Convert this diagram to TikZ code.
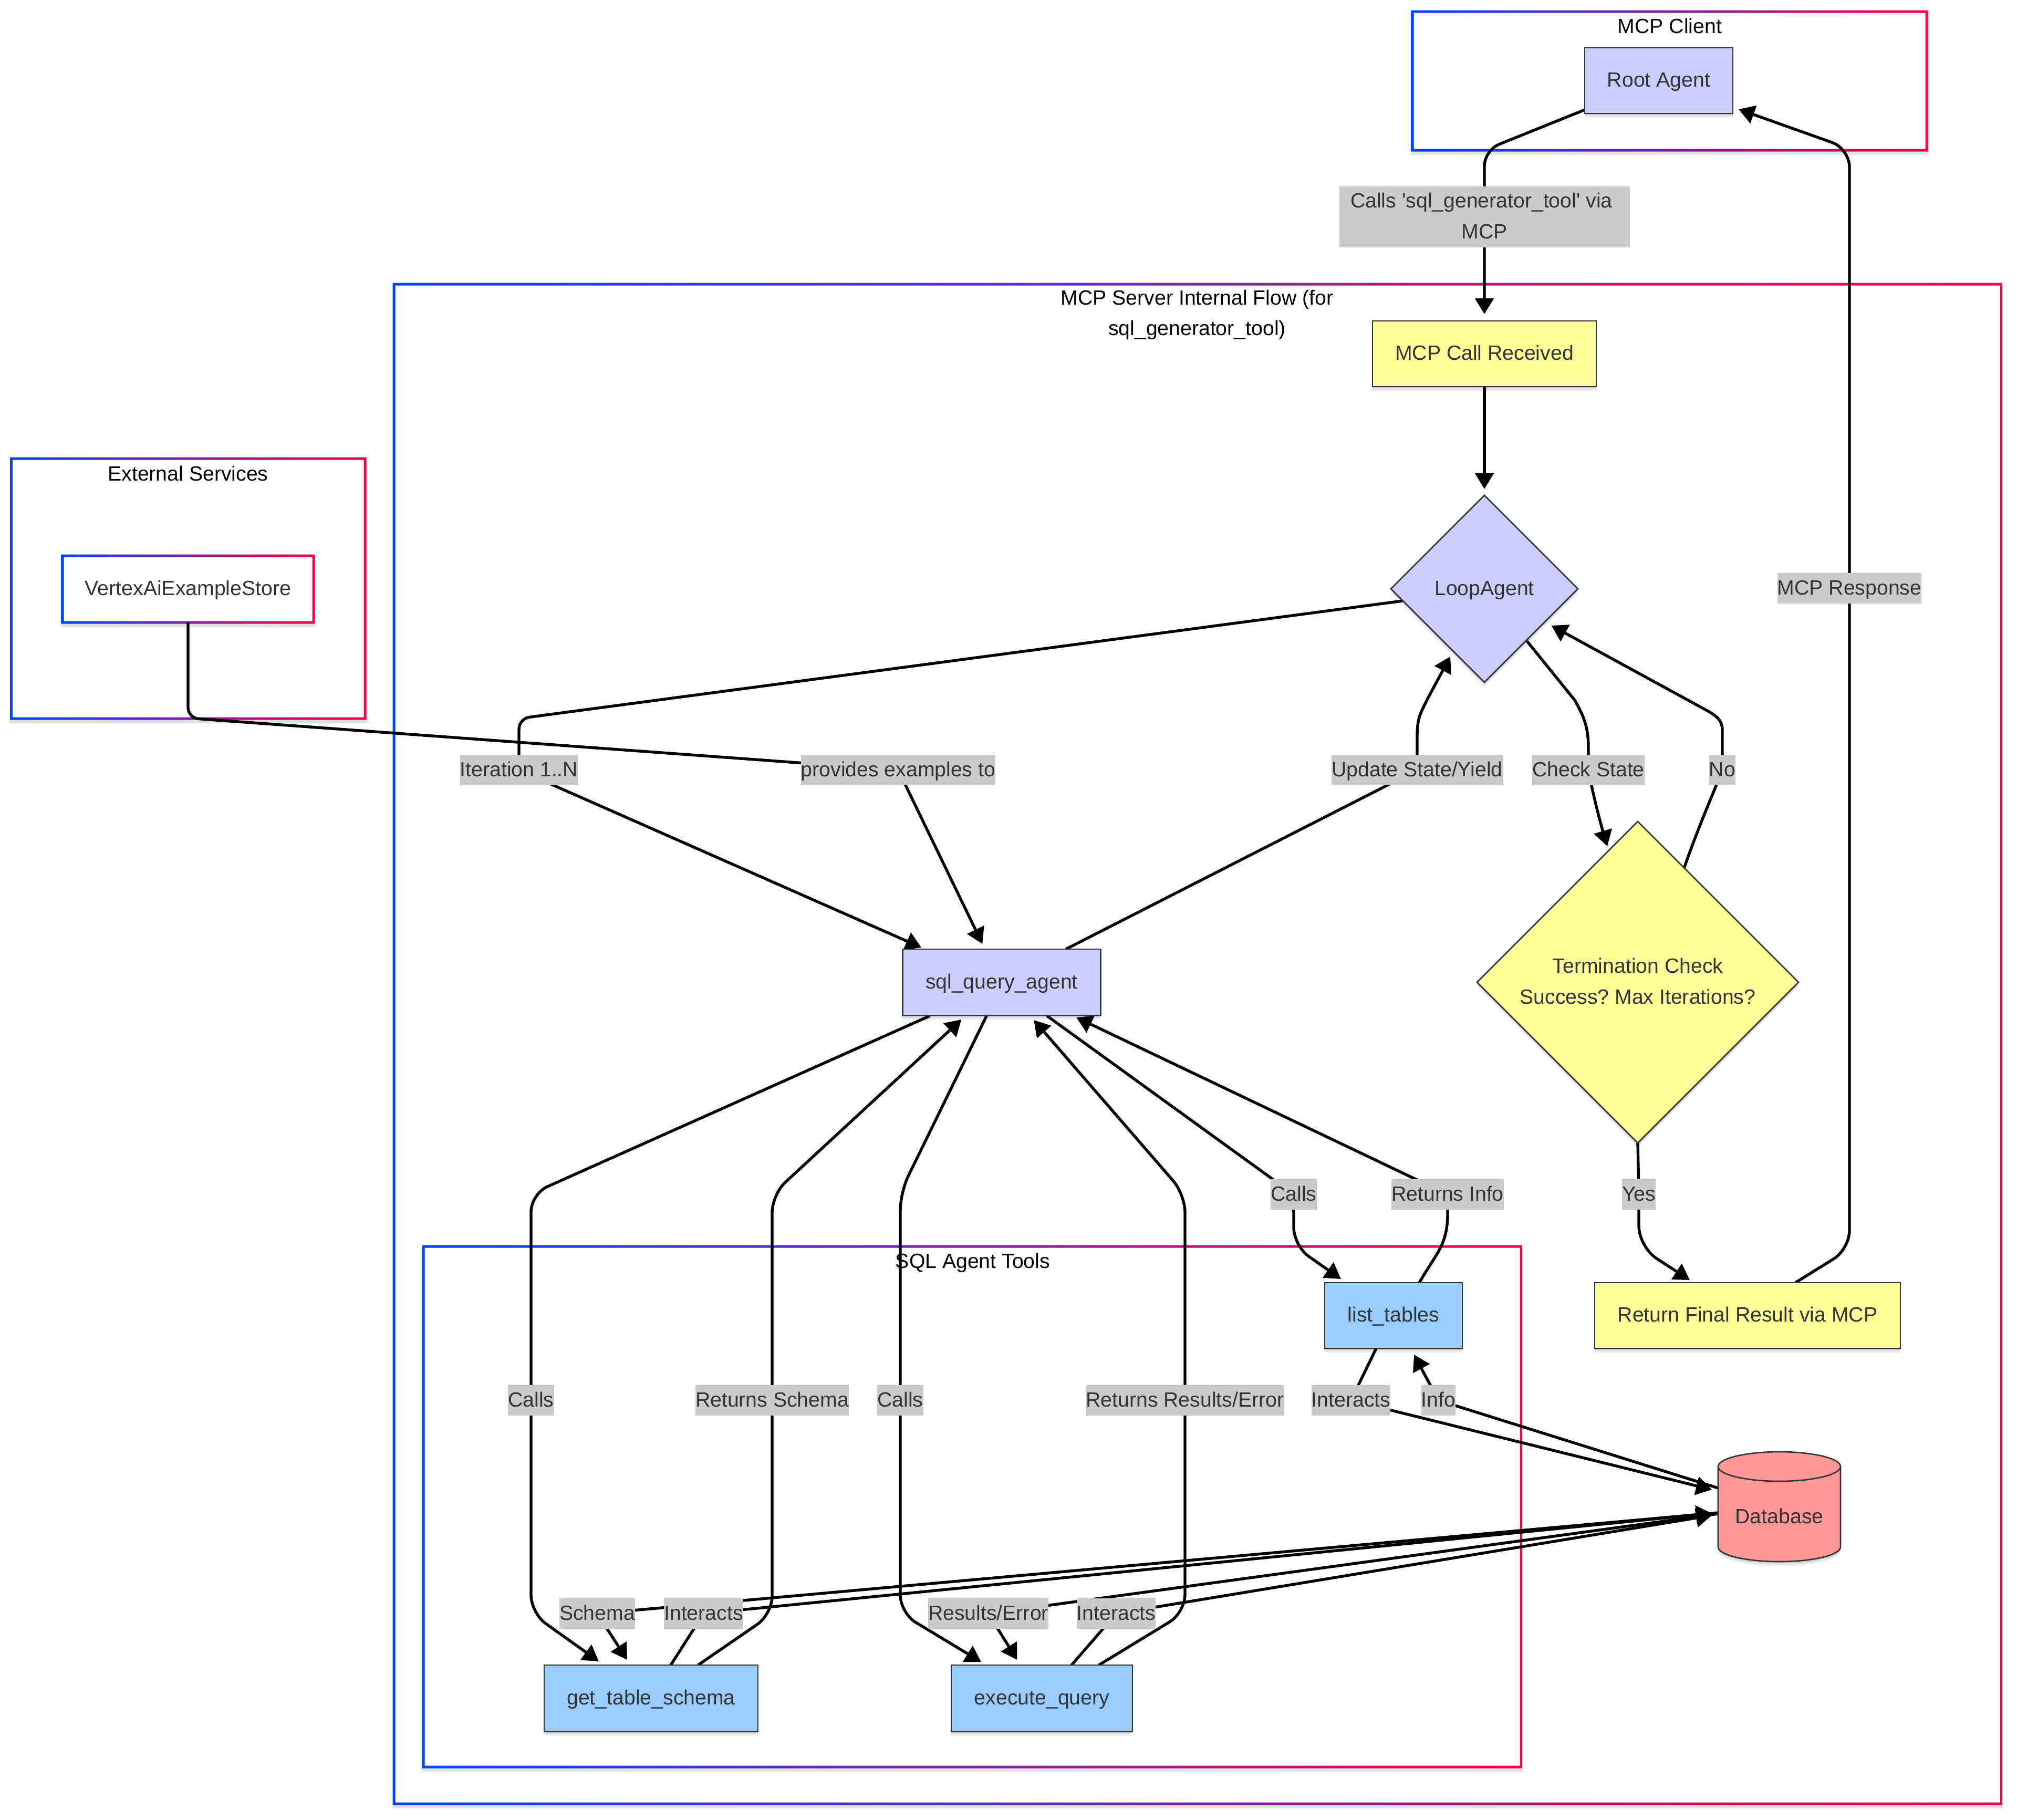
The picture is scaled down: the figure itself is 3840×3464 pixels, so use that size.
\documentclass[tikz,border=0pt]{standalone}
\usepackage{fontspec}
\setmainfont{Liberation Sans}
\frenchspacing
\usetikzlibrary{arrows.meta,calc,shapes.geometric,shadows,backgrounds}
\pgfdeclarelayer{frames}
\pgfdeclarelayer{edges}
\pgfsetlayers{frames,edges,main}
\definecolor{gblue}{HTML}{0044FF}
\definecolor{gred}{HTML}{FF0044}
\definecolor{ink}{HTML}{333333}
\definecolor{labgray}{HTML}{CBCBCB}
\definecolor{cpurple}{HTML}{CCCCFF}
\definecolor{cyellow}{HTML}{FFFF99}
\definecolor{cblue}{HTML}{99CCFF}
\definecolor{cred}{HTML}{FF9999}
\newcommand{\lnstrut}{\rule[-17pt]{0pt}{58pt}}
\newcommand{\gframe}[4]{%
  \draw[black,opacity=.05,line width=9pt] (#1,#2+5) rectangle (#3,#4+5);
  \draw[black,opacity=.07,line width=5pt] (#1,#2+5) rectangle (#3,#4+5);
  \fill[white] (#1,#2) rectangle (#3,#4);
  \shade[even odd rule,left color=gblue,right color=gred]
    (#1-2.5,#2-2.5) rectangle (#3+2.5,#4+2.5)
    (#1+2.5,#2+2.5) rectangle (#3-2.5,#4-2.5);}
\tikzset{
  txt/.style={font=\fontsize{39.2}{58.8}\selectfont,inner sep=0pt,outer sep=0pt,align=center},
  softshadow/.style={
    general shadow={shadow xshift=0pt,shadow yshift=-9pt,opacity=.05,fill=black},
    general shadow={shadow xshift=0pt,shadow yshift=-6pt,opacity=.07,fill=black},
    general shadow={shadow xshift=0pt,shadow yshift=-3pt,opacity=.09,fill=black}},
  box/.style={txt,text=ink,draw=ink,line width=2.6pt,softshadow,rectangle},
  agentbox/.style={box,fill=cpurple},
  flowbox/.style={box,fill=cyellow},
  toolbox/.style={box,fill=cblue},
  gate/.style={txt,text=ink,draw=ink,line width=2.6pt,softshadow,diamond,aspect=1},
  lab/.style={txt,text=ink,fill=labgray},
  ttl/.style={txt,text=black},
  edge/.style={draw=black,line width=5.4pt,line join=round,-{Triangle[length=30pt,width=35pt]}},
}
\begin{document}
\begin{tikzpicture}[x=1pt,y=-1pt]
\useasboundingbox (0,0) rectangle (3840,3464);
\begin{pgfonlayer}{frames}
\fill[white] (0,0) rectangle (3840,3464);
\gframe{2689}{22}{3668}{286}
\gframe{750}{541}{3810}{3434}
\gframe{21.5}{873}{695}{1368}
\gframe{806}{2373}{2896}{3364}
\gframe{119}{1058}{597}{1185}
\end{pgfonlayer}
% titles
\node[ttl] (tClient) at (3179,51) {\lnstrut MCP Client};
\node[ttl] (tServer) at (2279,597.5) {\lnstrut MCP Server Internal Flow (for\\\lnstrut sql\_generator\_tool)};
\node[ttl] (tExt) at (358,903) {\lnstrut External Services};
\node[ttl] (tTools) at (1852,2402) {\lnstrut SQL Agent Tools};
% nodes
\node[agentbox,minimum width=282pt,minimum height=125pt] (root) at (3158,153.5) {\lnstrut Root Agent};
\node[flowbox,minimum width=426pt,minimum height=125pt] (call) at (2826,673.5) {\lnstrut MCP Call Received};
\node[gate,fill=cpurple,minimum width=356pt,minimum height=356pt] (loop) at (2826,1121) {\lnstrut LoopAgent};
\node[gate,fill=cyellow,minimum width=612pt,minimum height=612pt] (term) at (3118,1870) {\lnstrut Termination Check\\\lnstrut Success? Max Iterations?};
\node[agentbox,minimum width=377.5pt,minimum height=126pt] (query) at (1907,1870) {\lnstrut sql\_query\_agent};
\node[toolbox,minimum width=262pt,minimum height=125pt] (list) at (2653,2504.5) {\lnstrut list\_tables};
\node[flowbox,minimum width=582pt,minimum height=125pt] (ret) at (3327,2504.5) {\lnstrut Return Final Result via MCP};
\node[toolbox,minimum width=407pt,minimum height=126pt] (get) at (1239.5,3233) {\lnstrut get\_table\_schema};
\node[toolbox,minimum width=345pt,minimum height=126pt] (exec) at (1983.5,3233) {\lnstrut execute\_query};
\node[txt,text=ink,minimum width=478pt,minimum height=127pt] (store) at (358,1121.5) {\lnstrut VertexAiExampleStore};
% database
\path[fill=cred,draw=ink,line width=2.6pt,softshadow]
  (3271,2792) arc[start angle=180,end angle=0,x radius=116.5pt,y radius=28pt]
  -- (3504,2945) arc[start angle=0,end angle=-180,x radius=116.5pt,y radius=28pt] -- cycle;
\draw[ink,line width=2.6pt] (3271,2792) arc[start angle=180,end angle=360,x radius=116.5pt,y radius=28pt];
\node[txt,text=ink,minimum width=233pt] (db) at (3387.5,2888) {\lnstrut Database};
% edge labels
\node[lab,minimum width=553pt] (lCalls) at (2826,413) {\lnstrut Calls \textquotesingle sql\_generator\_tool\textquotesingle{} via\hspace*{11pt}\\\lnstrut MCP};
\node[lab] (lResp) at (3521,1120) {\lnstrut MCP Response};
\node[lab] (lIter) at (988,1466) {\lnstrut Iteration 1..N};
\node[lab] (lProv) at (1710,1466) {\lnstrut provides examples to};
\node[lab] (lUpd) at (2698,1466) {\lnstrut Update State/Yield};
\node[lab] (lCheck) at (3024,1466) {\lnstrut Check State};
\node[lab] (lNo) at (3279,1466) {\lnstrut No};
\node[lab] (lC3) at (2463,2274) {\lnstrut Calls};
\node[lab] (lRI) at (2756,2274) {\lnstrut Returns Info};
\node[lab] (lYes) at (3120,2274) {\lnstrut Yes};
\node[lab] (lC1) at (1011,2666) {\lnstrut Calls};
\node[lab] (lRS) at (1470,2666) {\lnstrut Returns Schema};
\node[lab] (lC2) at (1714,2666) {\lnstrut Calls};
\node[lab] (lRR) at (2256,2666) {\lnstrut Returns Results/Error};
\node[lab] (lInt3) at (2572,2666) {\lnstrut Interacts};
\node[lab] (lInfo) at (2738.5,2666) {\lnstrut Info};
\node[lab] (lSch) at (1137,3072) {\lnstrut Schema};
\node[lab] (lInt1) at (1339.5,3072) {\lnstrut Interacts};
\node[lab] (lRes) at (1881.5,3072) {\lnstrut Results/Error};
\node[lab] (lInt2) at (2125,3072) {\lnstrut Interacts};
% edges
\begin{pgfonlayer}{edges}
\draw[edge,rounded corners=30pt] ($(root.south west)+(0,-7)$) -- (2826,286) -- (lCalls.center) -- ($(call.north)+(0,-13)$);
\draw[edge,rounded corners=35pt] ($(ret.north west)+(382,0)$) -- (3521,2378) -- (lResp.center) -- (3521,283) -- ($(root.south east)+(11,-8)$);
\draw[edge] (call.south) -- ($(loop.north)+(0,-12)$);
\draw[edge,rounded corners=20pt] ($(loop.center)+(-156,23)$) -- (988,1368) -- (lIter.center) -- ($(query.north west)+(36,-3)$);
\draw[edge,rounded corners=20pt] (store.south) -- (358,1367) -- (lProv.center) -- ($(query.north west)+(152,-10)$);
\draw[edge] ($(query.north west)+(311,0)$) -- (lUpd.center) -- (2698,1400) .. controls (2698,1365) and (2706,1355) .. (2718,1330) -- ($(loop.center)+(-65,129)$);
\draw[edge] ($(loop.center)+(81,99.5)$) -- (2998,1333) .. controls (3016,1365) and (3024,1385) .. (3024,1425) -- (lCheck.center) .. controls (3028,1490) and (3042,1550) .. ($(term.center)+(-58,-259)$);
\draw[edge] ($(term.center)+(88,-217)$) .. controls (3235,1570) and (3262,1510) .. (lNo.center) -- (3279,1391) .. controls (3279,1372) and (3270,1365) .. (3253,1354.5) -- ($(loop.center)+(127.5,70)$);
\draw[edge,rounded corners=40pt] (term.south) -- (lYes.center) -- (3120,2374) -- ($(ret.north west)+(181,-5)$);
\draw[edge,rounded corners=34pt] ($(query.south west)+(52,1)$) -- (1011,2273) -- (lC1.center) -- (1011,3071) -- ($(get.north west)+(104,-7)$);
\draw[edge,rounded corners=34pt] ($(get.north west)+(293,0)$) -- (1470,3073) -- (lRS.center) -- (1470,2274) -- ($(query.south west)+(112,8)$);
\draw[edge,rounded corners=34pt] ($(query.south west)+(160,1)$) -- (1714,2270) -- (lC2.center) -- (1714,3071) -- ($(exec.north west)+(57,-6)$);
\draw[edge,rounded corners=34pt] ($(exec.north west)+(281,0)$) -- (2256,3070) -- (lRR.center) -- (2256,2274) -- ($(query.south west)+(250,9)$);
\draw[edge,rounded corners=35pt] ($(query.south west)+(275,1)$) -- (lC3.center) -- (2463,2372) -- ($(list.north west)+(31,-7)$);
\draw[edge] ($(list.north west)+(180,0)$) .. controls (2735,2385) and (2756,2370) .. (2756,2310) -- (lRI.center) -- ($(query.south west)+(331,4)$);
\draw[edge] ($(list.south west)+(98,0)$) -- (lInt3.center) -- ($(db.west)+(-12,-52)$);
\draw[edge] ($(db.west)+(0,-55)$) -- (lInfo.center) -- ($(list.south west)+(170,12)$);
\draw[edge] ($(get.north west)+(241,0)$) -- (lInt1.center) -- ($(db.west)+(-12,-7)$);
\draw[edge] ($(db.west)+(0,-8)$) -- (lSch.center) -- ($(get.north west)+(158,-10)$);
\draw[edge] ($(exec.north west)+(229,0)$) -- (lInt2.center) -- ($(db.west)+(-12,-3)$);
\draw[edge] ($(db.west)+(0,-6)$) -- (lRes.center) -- ($(exec.north west)+(125.5,-10)$);
\end{pgfonlayer}
\end{tikzpicture}
\end{document}
